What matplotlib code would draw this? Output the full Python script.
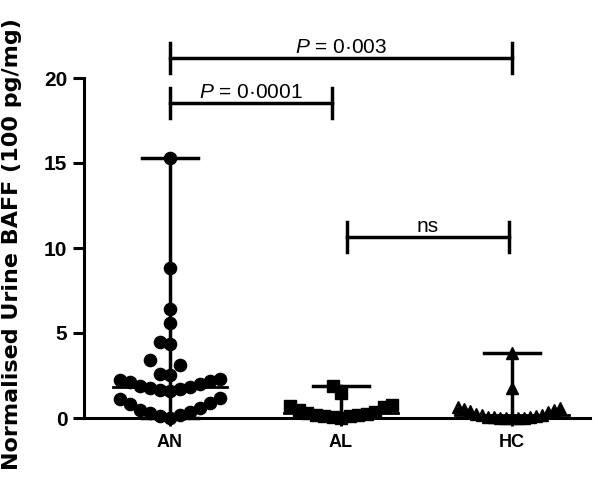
import numpy as np
import matplotlib
matplotlib.use('Agg')
import matplotlib.pyplot as plt

plt.rcParams['font.family'] = ['Liberation Sans', 'DejaVu Sans']
plt.rcParams['mathtext.fontset'] = 'custom'
plt.rcParams['mathtext.it'] = 'Liberation Sans:italic'
plt.rcParams['mathtext.rm'] = 'Liberation Sans'

# Data (values in 100 pg/mg)
groups = ['AN', 'AL', 'HC']
an_vals = [15.3, 8.8, 6.4, 5.6, 4.45, 4.35, 3.4, 3.1, 2.6, 2.55,
           1.6, 1.65, 1.7, 1.75, 1.8, 1.9, 2.0, 2.1, 2.15, 2.25, 2.3,
           0.0, 0.1, 0.15, 0.3, 0.35, 0.5, 0.6, 0.8, 0.9, 1.1, 1.2]
al_vals = [1.9, 1.5, 0.75, 0.7, 0.65,
           0.0, 0.05, 0.1, 0.12, 0.15, 0.2, 0.25, 0.3, 0.35, 0.45]
hc_vals = [3.8, 1.75, 0.65, 0.6, 0.55, 0.5, 0.4, 0.35, 0.25, 0.2, 0.15, 0.1,
           0.05, 0.04, 0.03, 0.02, 0.02, 0.01, 0.0, 0.0]
yticks = [0, 5, 10, 15, 20]

# significance comparisons: (x start, x end, y level, label)
comparisons = [(0, 2, 21.18, '$P$ = 0·003'),
               (0, 0.947, 18.53, '$P$ = 0·0001'),
               (1.035, 1.98, 10.65, 'ns')]

fig = plt.figure(figsize=(5.98, 4.92), dpi=100)
ax = fig.add_axes([84/598, 74/492, 506/598, 374/492])
ax.set_xlim(-0.503, 2.456)
ax.set_ylim(0, 22)

# Prism-like column scatter: values binned in rows, spread out from the centre
def column_scatter(values, xc, step_px, row=1.25):
    vals = np.asarray(values, float)
    px_per_x = ax.transData.transform((1, 0))[0] - ax.transData.transform((0, 0))[0]
    xs = np.full(len(vals), float(xc))
    bins = np.floor(vals / row)
    for b in np.unique(bins):
        idx = np.where(bins == b)[0]
        idx = idx[np.argsort(vals[idx], kind='stable')]
        for j, i in enumerate(idx):
            slot = (j + 1) // 2
            sign = -1 if j % 2 == 1 else 1
            xs[i] = xc + sign * slot * step_px / px_per_x
    return xs

styles = [('o', 8.8, 10), ('s', 8, 8.5), ('^', 8, 6)]
for k, vals in enumerate([an_vals, al_vals, hc_vals]):
    mk, ms, step = styles[k]
    xs = column_scatter(vals, k, step)
    ax.plot(xs, vals, ls='none', marker=mk, ms=ms, color='black',
            mec='black', clip_on=False, zorder=3)
    lo, hi, med = min(vals), max(vals), np.median(vals)
    ax.plot([k, k], [lo, hi], color='black', lw=2.5, zorder=2, clip_on=False)
    ax.plot([k - 0.165, k + 0.165], [hi, hi], color='black', lw=2.5, zorder=2)
    ax.plot([k - 0.165, k + 0.165], [lo, lo], color='black', lw=2.5, zorder=2, clip_on=False)
    ax.plot([k - 0.335, k + 0.335], [med, med], color='black', lw=2, zorder=2)

for x0, x1, y, lab in comparisons:
    ax.plot([x0, x1], [y, y], color='black', lw=2.5, clip_on=False)
    for xx in (x0, x1):
        ax.plot([xx, xx], [y - 0.88, y + 0.88], color='black', lw=2.5, clip_on=False)
    ax.text((x0 + x1) / 2, y + 0.3, lab, ha='center', va='baseline', fontsize=15)

ax.spines['top'].set_visible(False)
ax.spines['right'].set_visible(False)
ax.spines['left'].set_bounds(0, 20)
ax.spines['left'].set_linewidth(2.2)
ax.spines['bottom'].set_linewidth(2.2)
ax.set_yticks(yticks)
ax.set_xticks(range(len(groups)))
ax.set_xticklabels(groups, fontweight='bold', fontsize=13)
ax.tick_params(axis='y', length=8, width=2.2, labelsize=15, pad=4)
ax.tick_params(axis='x', length=6, width=2.2, pad=5.5)
for t in ax.get_yticklabels():
    t.set_fontweight('bold')
ax.set_ylabel('Normalised Urine BAFF (100 pg/mg)', fontsize=16,
              fontweight='bold', family='DejaVu Sans')
ax.yaxis.set_label_coords(-0.122, 0.465)

fig.savefig('out.png', dpi=100)
